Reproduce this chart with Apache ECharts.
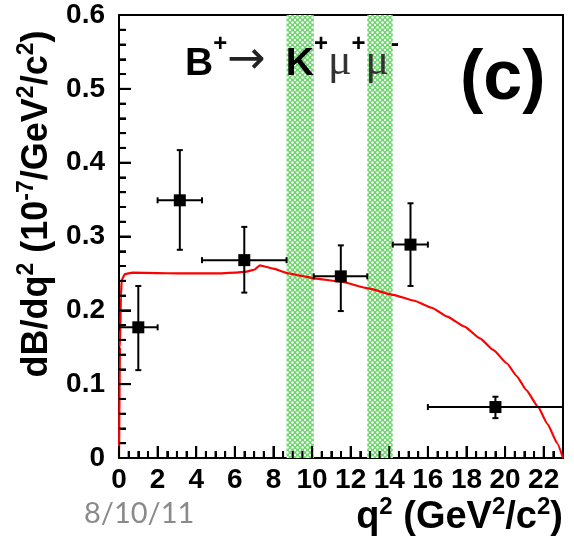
<!DOCTYPE html>
<html><head><meta charset="utf-8">
<script src="https://cdn.jsdelivr.net/npm/echarts@6/dist/echarts.min.js"></script>
<style>html,body{margin:0;padding:0;background:#fff}#c{width:574px;height:539px}</style>
</head><body><div id="c"></div>
<script>
// ---- data ----
const xCenter = [1.0, 3.15, 6.49, 11.49, 15.1, 19.5];
const yValue  = [0.177, 0.349, 0.268, 0.246, 0.289, 0.069];
const xLow    = [0.0, 2.0, 4.3, 10.09, 14.18, 16.0];
const xHigh   = [2.0, 4.3, 8.68, 12.86, 16.0, 23.0];
const yLow    = [0.119, 0.282, 0.224, 0.199, 0.233, 0.054];
const yHigh   = [0.233, 0.417, 0.313, 0.288, 0.345, 0.083];

const curveX = [0, 0.05, 0.1, 0.14, 0.3, 0.7, 2, 3, 4, 5, 6, 6.6, 7.0, 7.3, 7.6, 8.0, 8.7, 9.5, 10.1, 11.5, 12.9, 14.2, 15.3, 16.2, 17.0, 17.9, 18.7, 19.4, 20.1, 20.6, 21.1, 21.7, 22.2, 22.7, 23.0];
const curveY = [0, 0.15, 0.22, 0.241, 0.249, 0.251, 0.2505, 0.25, 0.25, 0.25, 0.251, 0.2525, 0.255, 0.261, 0.259, 0.2565, 0.2505, 0.2465, 0.2434, 0.2388, 0.2298, 0.221, 0.213, 0.2035, 0.1915, 0.178, 0.162, 0.146, 0.128, 0.111, 0.092, 0.0695, 0.046, 0.02, 0];

const vetoLow  = [8.68, 12.86];
const vetoHigh = [10.09, 14.18];

const xTickLabels = ['0','2','4','6','8','10','12','14','16','18','20','22'];
const yTickLabels = ['0','0.1','0.2','0.3','0.4','0.5','0.6'];

// tick positions (axis decoration): [value, kind] kind 0 x-major, 1 x-minor, 2 y-major, 3 y-minor
const tickData = [];
for (let i = 0; i < 46; i++) tickData.push([i * 0.5, i % 4 === 0 ? 0 : 1]);
for (let i = 0; i < 30; i++) tickData.push([+(i * 0.02).toFixed(2), i % 5 === 0 ? 2 : 3]);

// ---- helpers ----
function hatch() {
  const c = document.createElement('canvas');
  c.width = 5; c.height = 5;
  const g = c.getContext('2d');
  g.fillStyle = '#6ad66a';
  g.fillRect(0, 0, 5, 5);
  g.fillStyle = '#ffffff';
  [[2.5, 2.5], [0, 0], [5, 0], [0, 5], [5, 5]].forEach(p => { g.beginPath(); g.arc(p[0], p[1], 1.2, 0, Math.PI * 2); g.fill(); });
  return c;
}
const FONT = '"Liberation Sans", Arial, Helvetica, sans-serif';
const pattern = { image: hatch(), repeat: 'repeat' };

const pointData = xCenter.map((x, i) => [x, yValue[i], xLow[i], xHigh[i], yLow[i], yHigh[i]]);
const curveData = curveX.map((x, i) => [x, curveY[i]]);
const vetoAreas = vetoLow.map((lo, i) => [{ xAxis: lo }, { xAxis: vetoHigh[i] }]);

const textGraphics = [
  {
    type: 'text', left: 185, top: 32, z: 10,
    style: {
      text: '{b|B}{s|+}{a|→}{g| }{b|K}{s|+}{m|μ}{s|+}{m|μ}{t|-}',
      rich: {
        b: { fontFamily: FONT, fontWeight: 'bold', fontSize: 39, lineHeight: 46, verticalAlign: 'bottom', fill: '#000' },
        s: { fontFamily: FONT, fontWeight: 'bold', fontSize: 24, verticalAlign: 'top', fill: '#000' },
        t: { fontFamily: FONT, fontWeight: 'bold', fontSize: 24, verticalAlign: 'top', fill: '#000', padding: [0, 0, 0, 2] },
        g: { fontFamily: FONT, fontSize: 39, lineHeight: 46, width: 20 },
        a: { fontFamily: '"DejaVu Sans", sans-serif', fontSize: 46, lineHeight: 46, verticalAlign: 'bottom', fill: '#222' },
        m: { fontFamily: '"Liberation Serif", "Times New Roman", serif', fontSize: 44, lineHeight: 52, verticalAlign: 'bottom', fill: '#333' }
      }
    }
  },
  {
    type: 'text', left: 460, top: 45, z: 10,
    style: { text: '(c)', fontFamily: FONT, fontWeight: 'bold', fontSize: 70, fill: '#000' }
  },
  {
    type: 'text', x: 35, y: 204, rotation: Math.PI / 2, z: 10,
    style: {
      text: '{b|dB/dq}{s|2}{b| (10}{s|-7}{b|/GeV}{s|2}{b|/c}{s|2}{b|)}',
      align: 'center', verticalAlign: 'middle',
      rich: {
        b: { fontFamily: FONT, fontWeight: 'bold', fontSize: 36, lineHeight: 40, verticalAlign: 'bottom', fill: '#000' },
        s: { fontFamily: FONT, fontWeight: 'bold', fontSize: 23, verticalAlign: 'top', fill: '#000' }
      }
    }
  },
  {
    type: 'text', right: 11, top: 495, z: 10,
    style: {
      text: '{b|q}{s|2}{b| (GeV}{s|2}{b|/c}{s|2}{b|)}',
      rich: {
        b: { fontFamily: FONT, fontWeight: 'bold', fontSize: 38, lineHeight: 42, verticalAlign: 'bottom', fill: '#000' },
        s: { fontFamily: FONT, fontWeight: 'bold', fontSize: 24, verticalAlign: 'top', fill: '#000' }
      }
    }
  },
  {
    type: 'text', left: 84, top: 499, z: 10,
    style: { text: '8/10/11', fontFamily: 'Lato, "Open Sans", sans-serif', fontSize: 29, fill: '#8a8a8a' }
  }
];

const chart = echarts.init(document.getElementById('c'));
chart.setOption({
  animation: false,
  grid: { left: 119, top: 15, width: 444, height: 443, show: true, borderColor: '#000', borderWidth: 2 },
  xAxis: {
    type: 'value', min: 0, max: 23, interval: 2,
    axisLine: { show: true, onZero: false, lineStyle: { color: '#000', width: 2 } },
    axisTick: { show: true, inside: true, length: 12, lineStyle: { color: '#000', width: 2 } },
    minorTick: { show: true, splitNumber: 4, length: 7, lineStyle: { color: '#000', width: 2 } },
    splitLine: { show: false },
    axisLabel: {
      showMaxLabel: false, margin: 8, color: '#000', fontFamily: FONT, fontWeight: 'bold', fontSize: 28,
      formatter: v => { const i = Math.round(v / 2); return (Math.abs(v - i * 2) < 1e-6 && xTickLabels[i] !== undefined) ? xTickLabels[i] : ''; }
    }
  },
  yAxis: {
    type: 'value', min: 0, max: 0.6, interval: 0.1,
    axisLine: { show: true, onZero: false, lineStyle: { color: '#000', width: 2 } },
    axisTick: { show: true, inside: true, length: 12, lineStyle: { color: '#000', width: 2 } },
    minorTick: { show: true, splitNumber: 5, length: 7, lineStyle: { color: '#000', width: 2 } },
    splitLine: { show: false },
    axisLabel: {
      margin: 14, color: '#000', fontFamily: FONT, fontWeight: 'bold', fontSize: 28,
      formatter: v => yTickLabels[Math.round(v * 10)] || ''
    }
  },
  series: [
    {
      type: 'line', data: curveData, showSymbol: false, symbol: 'none', z: 3,
      smooth: 0.15, smoothMonotone: 'x',
      lineStyle: { color: '#ff0000', width: 2.2 },
      markArea: { silent: true, itemStyle: { color: pattern }, data: vetoAreas }
    },
    {
      type: 'custom', z: 5, data: pointData,
      encode: { x: [0, 2, 3], y: [1, 4, 5] },
      renderItem: (params, api) => {
        const xc = api.value(0), y = api.value(1), xl = api.value(2), xh = api.value(3), yl = api.value(4), yh = api.value(5);
        const c = api.coord([xc, y]);
        const l = api.coord([xl, y]), h = api.coord([xh, y]);
        const b = api.coord([xc, yl]), t = api.coord([xc, yh]);
        const st = { stroke: '#000', lineWidth: 2 };
        return {
          type: 'group', children: [
            { type: 'line', shape: { x1: l[0], y1: c[1], x2: h[0], y2: c[1] }, style: st },
            { type: 'line', shape: { x1: c[0], y1: t[1], x2: c[0], y2: b[1] }, style: st },
            { type: 'line', shape: { x1: c[0] - 3, y1: t[1], x2: c[0] + 3, y2: t[1] }, style: st },
            { type: 'line', shape: { x1: c[0] - 3, y1: b[1], x2: c[0] + 3, y2: b[1] }, style: st },
            { type: 'line', shape: { x1: l[0], y1: c[1] - 3, x2: l[0], y2: c[1] + 3 }, style: st },
            { type: 'line', shape: { x1: h[0], y1: c[1] - 3, x2: h[0], y2: c[1] + 3 }, style: st },
            { type: 'rect', shape: { x: c[0] - 6, y: c[1] - 6, width: 12, height: 12 }, style: { fill: '#000' } }
          ]
        };
      }
    }
  ],
  graphic: textGraphics
});

// axis ticks placed through the chart's own scales (backup for the axis ticks)
const tickGraphics = [];
tickData.forEach(([v, k]) => {
  if (k <= 1) {
    const p = chart.convertToPixel({ gridIndex: 0 }, [v, 0]);
    const len = k === 0 ? 12 : 7;
    if (p) tickGraphics.push({ type: 'line', z: 100, silent: true, shape: { x1: p[0], y1: p[1], x2: p[0], y2: p[1] - len }, style: { stroke: '#000', lineWidth: 2 } });
  } else {
    const p = chart.convertToPixel({ gridIndex: 0 }, [0, v]);
    const len = k === 2 ? 12 : 7;
    if (p) tickGraphics.push({ type: 'line', z: 100, silent: true, shape: { x1: p[0], y1: p[1], x2: p[0] + len, y2: p[1] }, style: { stroke: '#000', lineWidth: 2 } });
  }
});
chart.setOption({ graphic: textGraphics.concat(tickGraphics) });
</script></body></html>
